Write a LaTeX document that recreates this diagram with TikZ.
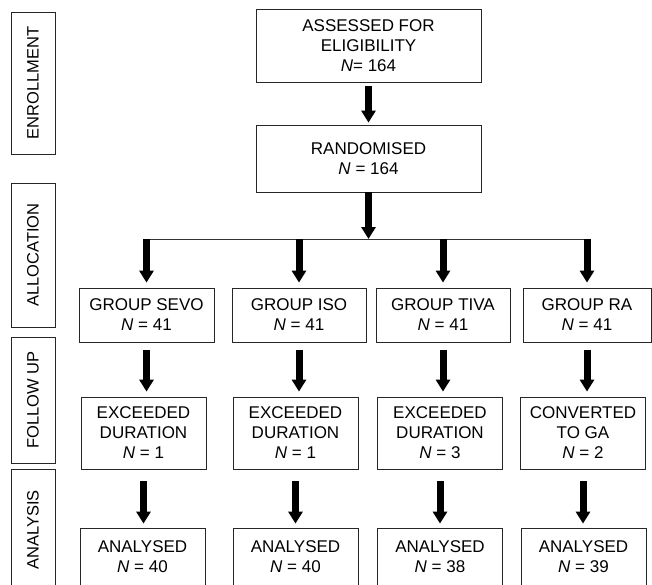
\documentclass[tikz,border=0pt]{standalone}
\usepackage{fontspec}
\setmainfont{Liberation Sans}
\usetikzlibrary{arrows.meta}

\begin{document}
\begin{tikzpicture}[x=1pt, y=-1pt,
  box/.style={draw=black!85, line width=0.8pt, align=center, inner sep=0pt,
    font=\fontsize{17}{20}\selectfont},
  side/.style={draw=black!85, line width=0.8pt, rotate=90, inner sep=0pt,
    minimum height=44pt, font=\fontsize{16.5}{19}\selectfont},
  fat/.style={line width=7pt, -{Triangle[width=14pt,length=12pt]}}]

\useasboundingbox (0,0) rectangle (652,585);

% phases
\node[side, minimum width=142pt] (enrol)  at (33,83)    {ENROLLMENT};
\node[side, minimum width=144pt] (alloc)  at (33,255)   {ALLOCATION};
\node[side, minimum width=126pt] (follow) at (33,400)   {FOLLOW UP};
\node[side, minimum width=122pt] (analys) at (33,530)   {ANALYSIS};

% top
\node[box, minimum width=225pt, minimum height=73pt] (assess) at (368.5,45.5)
  {ASSESSED FOR\\ELIGIBILITY\\\textit{N}= 164};
\node[box, minimum width=225pt, minimum height=67pt] (rand) at (368.5,158.5)
  {RANDOMISED\\\textit{N} = 164};
\coordinate (split) at (368.5,239);

% groups
\begin{scope}[every node/.append style={minimum height=54pt}]
\node[box, minimum width=135pt] (sevo) at (146.5,315) {GROUP SEVO\\\textit{N} = 41};
\node[box, minimum width=134pt] (iso)  at (299,315)   {GROUP ISO\\\textit{N} = 41};
\node[box, minimum width=134pt] (tiva) at (443,315)   {GROUP TIVA\\\textit{N} = 41};
\node[box, minimum width=128pt] (ra)   at (587,315)   {GROUP RA\\\textit{N} = 41};
\end{scope}

% follow up
\begin{scope}[every node/.append style={minimum width=125pt, minimum height=72pt}]
\node[box] (exsevo) at (143.5,433) {EXCEEDED\\DURATION\\\textit{N} = 1};
\node[box] (exiso)  at (295.5,433) {EXCEEDED\\DURATION\\\textit{N} = 1};
\node[box] (extiva) at (440,433)   {EXCEEDED\\DURATION\\\textit{N} = 3};
\node[box] (exra)   at (583,433)   {CONVERTED\\TO GA\\\textit{N} = 2};
\end{scope}

% analysis
\begin{scope}[every node/.append style={minimum width=125pt, minimum height=57pt}]
\node[box] (ansevo) at (142.5,556.5) {ANALYSED\\\textit{N} = 40};
\node[box] (aniso)  at (295.5,556.5) {ANALYSED\\\textit{N} = 40};
\node[box] (antiva) at (440,556.5)   {ANALYSED\\\textit{N} = 38};
\node[box] (anra)   at (583.5,556.5) {ANALYSED\\\textit{N} = 39};
\end{scope}

% arrows
\draw[fat, shorten <=4pt, shorten >=2pt] (assess.south) -- (rand.north);
\draw[fat] (rand.south) -- (split);
\draw[black!80, line width=0.8pt] (split -| sevo.north) -- (split -| ra.north);
\foreach \g in {sevo,iso,tiva,ra}
  \draw[fat, shorten >=5pt] (split -| \g.north) -- (\g.north);
\foreach \g/\e in {sevo/exsevo,iso/exiso,tiva/extiva,ra/exra}
  \draw[fat, shorten <=8pt, shorten >=5pt] (\g.south) -- (\g.south |- \e.north);
\foreach \e/\a in {exsevo/ansevo,exiso/aniso,extiva/antiva,exra/anra}
  \draw[fat, shorten <=12pt, shorten >=4pt] (\e.south) -- (\e.south |- \a.north);

\end{tikzpicture}
\end{document}
